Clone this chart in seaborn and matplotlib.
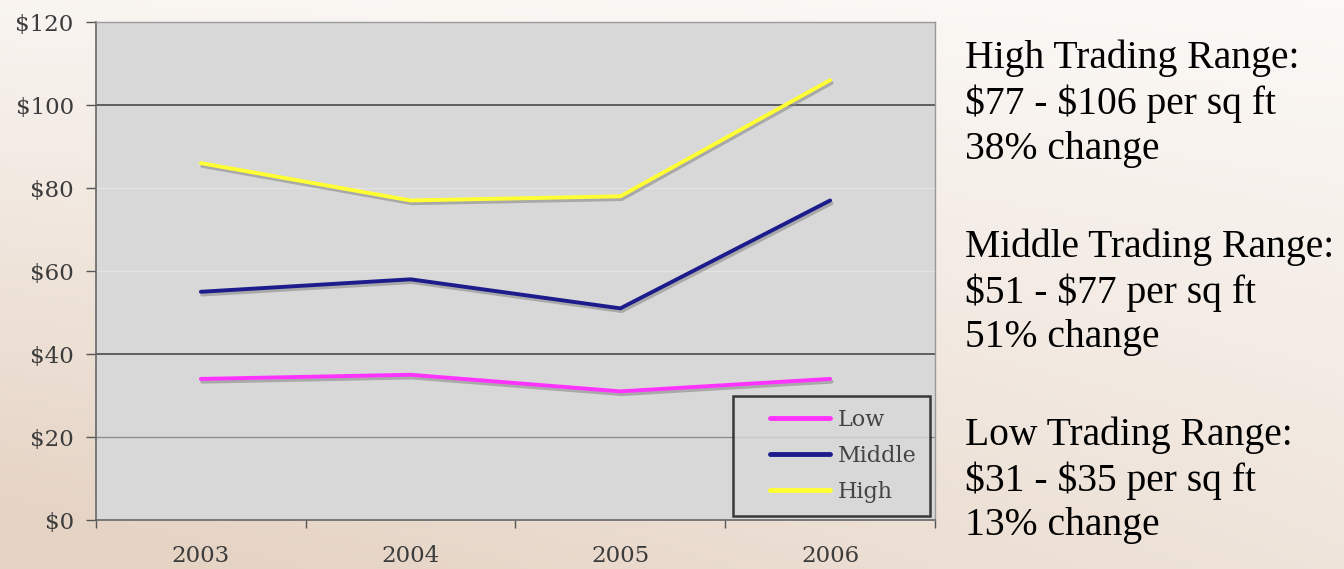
import numpy as np
import pandas as pd
import matplotlib
matplotlib.use("Agg")
import matplotlib.pyplot as plt
import matplotlib.patheffects as pe
from matplotlib.legend_handler import HandlerLine2D
import seaborn as sns

years = ["2003", "2004", "2005", "2006"]
low = [34, 35, 31, 34]
middle = [55, 58, 51, 77]
high = [86, 77, 78, 106]
series_names = ["Low", "Middle", "High"]
series_colors = ["#ff33ff", "#1c1c8c", "#ffff33"]
y_ticks = [0, 20, 40, 60, 80, 100, 120]
notes = [
    ["High Trading Range:", "$77 - $106 per sq ft", "38% change"],
    ["Middle Trading Range:", "$51 - $77 per sq ft", "51% change"],
    ["Low Trading Range:", "$31 - $35 per sq ft", "13% change"],
]

sns.set_style("white")
plt.rcParams["font.family"] = ["Liberation Serif", "DejaVu Serif"]
plt.rcParams["text.parse_math"] = False

fig = plt.figure(figsize=(13.44, 5.69), dpi=100)

# warm beige backdrop
bg = fig.add_axes([0, 0, 1, 1], zorder=-10)
yy, xx = np.mgrid[0:1:200j, 0:1:400j]
shade = np.clip(0.55 * yy + 0.45 * (1 - xx) * yy + 0.1 * (1 - xx), 0, 1)
top = np.array([0.985, 0.975, 0.965])
bot = np.array([0.90, 0.83, 0.77])
img = top[None, None, :] * (1 - shade[..., None]) + bot[None, None, :] * shade[..., None]
bg.imshow(img, aspect="auto", extent=[0, 1, 0, 1], origin="upper")
bg.axis("off")

ax = fig.add_axes([0.0714, 0.0861, 0.6243, 0.8752])
ax.set_facecolor("#d8d8d8")

df = pd.DataFrame({
    "pos": list(range(len(years))) * 3,
    "value": low + middle + high,
    "series": [s for s in series_names for _ in years],
})

# grid lines
for v in y_ticks[1:-1]:
    if v in (40, 100):
        ax.axhline(v, color="#555555", lw=1.3, zorder=1)
    elif v == 20:
        ax.axhline(v, color="#8a8a8a", lw=0.9, zorder=1)
    else:
        ax.axhline(v, color="#e4e4e4", lw=0.9, zorder=1)

sns.lineplot(data=df, x="pos", y="value", hue="series", hue_order=series_names,
             palette=series_colors, linewidth=2.8, ax=ax, legend=False, zorder=3)
for line in ax.get_lines()[-3:]:
    line.set_path_effects([pe.SimpleLineShadow(offset=(1.0, -2.0), shadow_color="#8a8a8a", alpha=0.6),
                           pe.Normal()])

ax.set_xlim(-0.5, len(years) - 0.5)
ax.set_ylim(0, 120)
ax.set_xlabel("")
ax.set_ylabel("")

tick_font = dict(family=["DejaVu Serif"], size=16.5, color="#3c3c3c")
ax.set_yticks(y_ticks)
ax.set_yticklabels([f"${v}" for v in y_ticks], **tick_font)
ax.set_xticks(np.arange(-0.5, len(years), 1.0))
ax.set_xticklabels([])
ax.set_xticks(range(len(years)), minor=True)
ax.set_xticklabels(years, minor=True, **tick_font)
ax.tick_params(axis="x", which="major", length=6, width=1, color="#555555", direction="out", bottom=True)
ax.tick_params(axis="x", which="minor", length=0, pad=18)
ax.tick_params(axis="y", length=7, width=1, color="#555555", direction="out", left=True, pad=9)

for side in ["left", "bottom"]:
    ax.spines[side].set_color("#666666")
    ax.spines[side].set_linewidth(1.2)
for side in ["top", "right"]:
    ax.spines[side].set_color("#9a9a9a")
    ax.spines[side].set_linewidth(1.0)

handles = [plt.Line2D([], [], color=c, lw=3.5) for c in series_colors]
leg = ax.legend(handles, series_names, loc="lower left",
                bbox_to_anchor=((733 - 96) / 839, (520 - 516) / 498),
                frameon=True, fancybox=False, prop=dict(family=["DejaVu Serif"], size=16),
                handler_map={plt.Line2D: HandlerLine2D(xpad=1.05)},
                handlelength=3.75, handletextpad=0.35, labelspacing=0.62,
                borderpad=0.6, borderaxespad=0)
leg.get_frame().set_facecolor("#d8d8d8")
leg.get_frame().set_edgecolor("#111111")
leg.get_frame().set_linewidth(1.8)
for t in leg.get_texts():
    t.set_color("#444444")
leg.set_zorder(5)

# range notes on the right
block_tops = [1 - 58 / 569, 1 - 247 / 569, 1 - 435 / 569]
for block, y0 in zip(notes, block_tops):
    for i, text in enumerate(block):
        fig.text(965 / 1344, y0 - i * 45.5 / 569, text, fontsize=28.5, color="#000000",
                 va="center", ha="left")

fig.savefig("out.png", dpi=100)
